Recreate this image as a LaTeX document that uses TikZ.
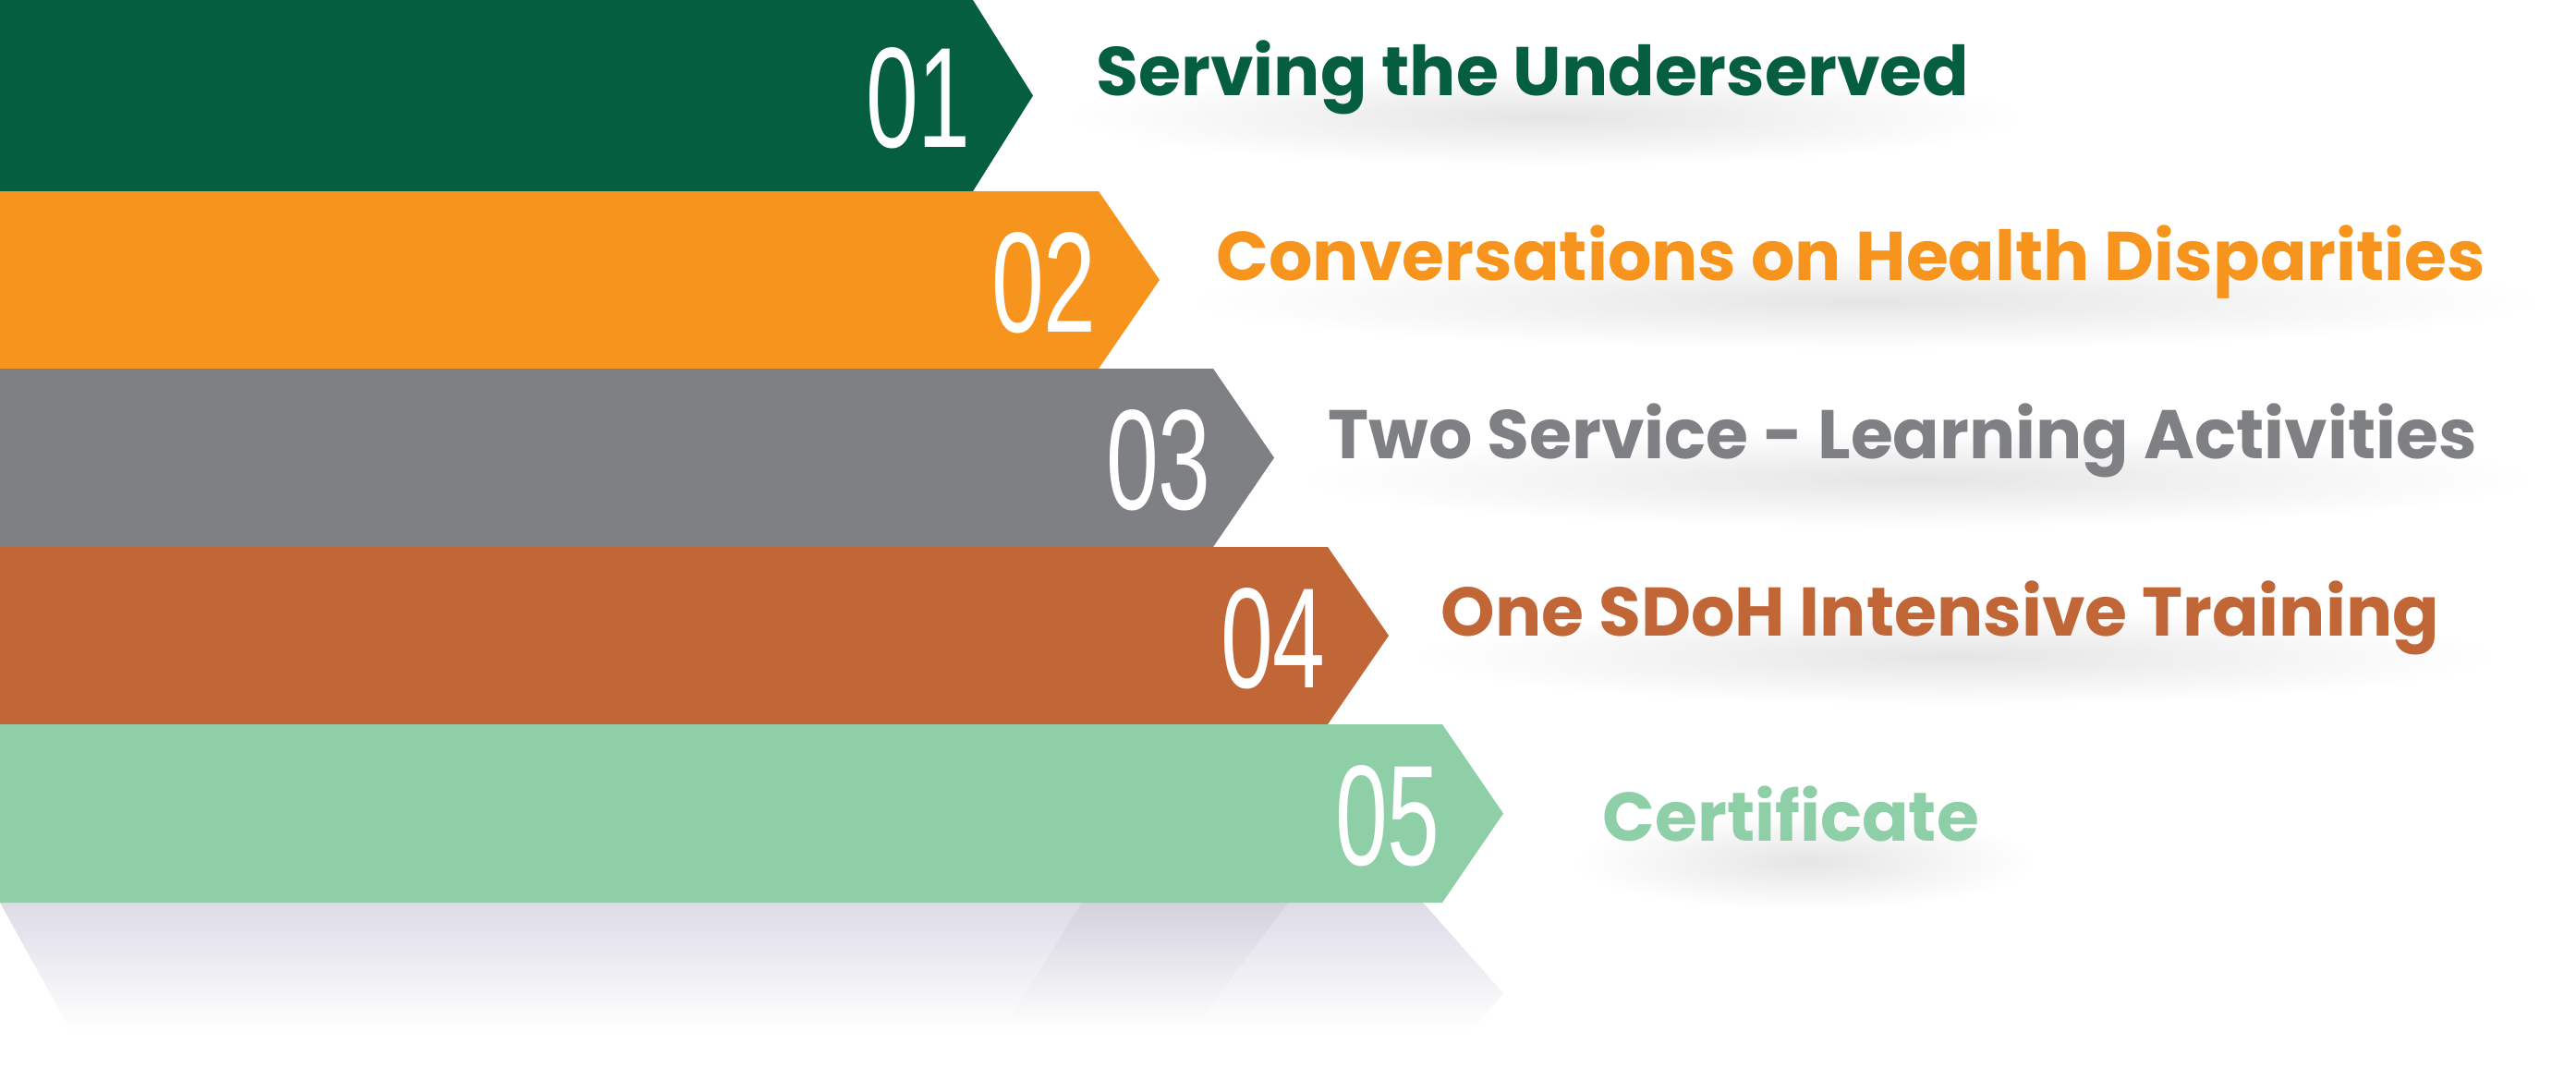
\documentclass[tikz,border=0pt]{standalone}
\usepackage{fontspec}
\setmainfont{Poppins}
\newfontfamily\numfont{Liberation Sans}
\usepackage{tikz}
\usetikzlibrary{positioning,fadings,calc,backgrounds}
\definecolor{stepA}{HTML}{045E3F}
\definecolor{stepB}{HTML}{F7941E}
\definecolor{stepC}{HTML}{7F8083}
\definecolor{stepD}{HTML}{C06637}
\definecolor{stepE}{HTML}{8ECFA8}
\definecolor{floorshade}{HTML}{DDDBE6}
\definecolor{floorstripe}{HTML}{D3D1DC}
\tikzfading[name=softglow, inner color=transparent!0, outer color=transparent!100]
\tikzset{
  band/.style={fill=#1},
  bandnum/.style={text=white, inner sep=0pt, anchor=base east, xscale=0.66,
    font=\numfont\fontsize{44}{44}\selectfont},
  bandlabel/.style={text=#1, inner sep=0pt, anchor=base west,
    font=\bfseries\fontsize{21.2}{24}\selectfont},
  glow/.style={fill=black!10, path fading=softglow},
}

\begin{document}
\begin{tikzpicture}[x=1cm,y=-1cm]
\useasboundingbox (0,0) rectangle (27.88,11.69);

% reflection under the last band
\shade[top color=floorshade, bottom color=white]
  (0,9.77) -- (15.40,9.77) -- (16.27,10.75) -- (15.94,11.15) -- (0.76,11.15) -- cycle;
\shade[top color=floorstripe, bottom color=white]
  (11.71,9.77) -- (13.94,9.77) -- (12.90,11.15) -- (10.85,11.15) -- cycle;

% bands with their numbers
\foreach \i/\col/\t/\b/\xr/\xt in {
  1/stepA/0/2.07/10.53/11.18,
  2/stepB/2.07/3.99/11.89/12.55,
  3/stepC/3.99/5.92/13.13/13.79,
  4/stepD/5.92/7.84/14.37/15.03,
  5/stepE/7.84/9.77/15.61/16.27}
{
  \fill[band=\col] (0,\t) -- (\xr,\t) -- (\xt,{(\t+\b)/2}) -- (\xr,\b) -- (0,\b) -- cycle;
  \node[bandnum] (num\i) at (\xr-0.02,{(\t+\b)/2+0.56}) {0\i};
}

% labels
\foreach \i/\col/\x/\y/\txt in {
  1/stepA/11.86/1.04/Serving the Underserved,
  2/stepB/13.16/3.03/Conversations on Health Disparities,
  3/stepC/14.37/4.96/Two Service - Learning Activities,
  4/stepD/15.59/6.88/One SDoH Intensive Training,
  5/stepE/17.34/9.10/Certificate}
{
  \node[bandlabel=\col] (lbl\i) at (\x,\y) {\txt};
  \begin{pgfonlayer}{background}
    \fill[glow] ($(lbl\i.base west)+(-0.3,-0.3)$) rectangle ($(lbl\i.base east)+(0.6,0.75)$);
  \end{pgfonlayer}
}

\end{tikzpicture}
\end{document}
